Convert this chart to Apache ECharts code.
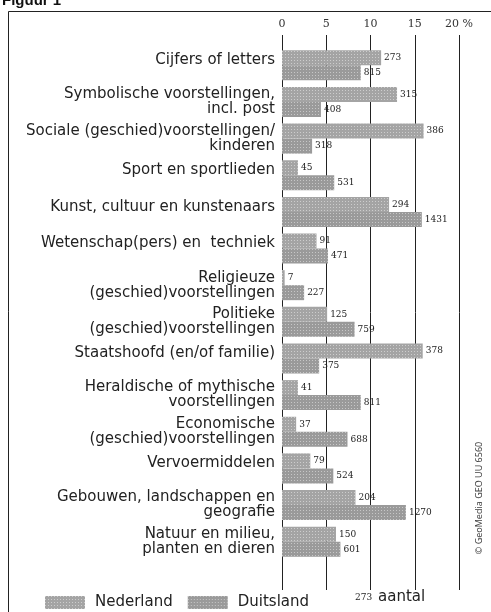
<!DOCTYPE html>
<html>
<head>
<meta charset="utf-8">
<title>Figuur 1</title>
<script src="https://cdn.jsdelivr.net/npm/echarts@6/dist/echarts.min.js"></script>
<style>
  html, body { margin: 0; padding: 0; background: #fff; }
  #chart { width: 491px; height: 612px; }
</style>
</head>
<body>
<div id="chart"></div>
<script>
// onderwerpen (van boven naar beneden)
var categories = [
  'Cijfers of letters',
  'Symbolische voorstellingen,\nincl. post',
  'Sociale (geschied)voorstellingen/\nkinderen',
  'Sport en sportlieden',
  'Kunst, cultuur en kunstenaars',
  'Wetenschap(pers) en  techniek',
  'Religieuze\n(geschied)voorstellingen',
  'Politieke\n(geschied)voorstellingen',
  'Staatshoofd (en/of familie)',
  'Heraldische of mythische\nvoorstellingen',
  'Economische\n(geschied)voorstellingen',
  'Vervoermiddelen',
  'Gebouwen, landschappen en\ngeografie',
  'Natuur en milieu,\nplanten en dieren'
];
// percentages
var nederland = [11.2, 13.0, 16.0, 1.8, 12.1, 3.9, 0.3, 5.1, 15.9, 1.8, 1.6, 3.2, 8.3, 6.1];
var duitsland = [8.9, 4.4, 3.4, 5.9, 15.8, 5.2, 2.5, 8.2, 4.2, 8.9, 7.4, 5.8, 14.0, 6.6];
// aantallen
var aantalNL = [273, 315, 386, 45, 294, 91, 7, 125, 378, 41, 37, 79, 204, 150];
var aantalDE = [815, 408, 318, 531, 1431, 471, 227, 759, 375, 811, 688, 524, 1270, 601];
var ticks = [0, 5, 10, 15, 20];

var labelFont = '"DejaVu Sans", sans-serif';
var numFont = '"DejaVu Serif", serif';

var chart = echarts.init(document.getElementById('chart'));

function valueLabel(counts) {
  return {
    show: true,
    position: 'right',
    distance: 3,
    fontFamily: numFont,
    fontSize: 9,
    color: '#222',
    formatter: function (p) { return counts[p.dataIndex]; }
  };
}

var texture = {
  symbol: 'rect',
  symbolSize: 1,
  dashArrayX: [1, 2],
  dashArrayY: [1, 2],
  color: 'rgba(255,255,255,0.45)'
};

chart.setOption({
  animation: false,
  backgroundColor: '#fff',
  grid: [
    { left: 282, right: 32, top: 35, bottom: 22 },
    { left: 282, right: 32, top: 47, bottom: 52 }
  ],
  xAxis: [
    {
      gridIndex: 0, type: 'value', position: 'top',
      min: ticks[0], max: ticks[ticks.length - 1], interval: 5,
      axisLine: { show: false },
      axisTick: { show: false },
      axisLabel: {
        margin: 5, fontFamily: numFont, fontSize: 11, color: '#333',
        formatter: function (v) { return v === 20 ? '20 %' : v; }
      },
      splitLine: { show: true, lineStyle: { color: '#222', width: 1 } }
    },
    {
      gridIndex: 1, type: 'value', min: 0, max: 20, show: false
    }
  ],
  yAxis: [
    { gridIndex: 0, type: 'value', show: false },
    {
      gridIndex: 1, type: 'category', inverse: true, data: categories,
      axisLine: { show: false },
      axisTick: { show: false },
      axisLabel: {
        margin: 7, fontFamily: labelFont, fontSize: 15, color: '#222',
        lineHeight: 15, align: 'right',
        formatter: function (v) {
          return v.indexOf('\n') >= 0 ? v : '{s|' + v + '}';
        },
        rich: { s: { fontFamily: labelFont, fontSize: 15, color: '#222', padding: [0, 0, 10, 0] } }
      }
    }
  ],
  legend: {
    left: 40, top: 590, itemWidth: 40, itemHeight: 13, itemGap: 15, icon: 'rect',
    textStyle: { fontFamily: labelFont, fontSize: 15, color: '#222', padding: [0, 0, 0, 5] },
    data: ['Nederland', 'Duitsland']
  },
  series: [
    {
      name: 'Nederland', type: 'bar', xAxisIndex: 1, yAxisIndex: 1,
      data: nederland, barWidth: 15, barGap: '0%',
      itemStyle: { color: '#a4a4a4', decal: texture },
      label: valueLabel(aantalNL)
    },
    {
      name: 'Duitsland', type: 'bar', xAxisIndex: 1, yAxisIndex: 1,
      data: duitsland, barWidth: 15, barGap: '0%',
      itemStyle: { color: '#9a9a9a', decal: texture },
      label: valueLabel(aantalDE)
    }
  ],
  graphic: [
    { type: 'line', shape: { x1: 8.5, y1: 11.5, x2: 491, y2: 11.5 }, style: { stroke: '#222', lineWidth: 1 } },
    { type: 'line', shape: { x1: 8.5, y1: 11.5, x2: 8.5, y2: 612 }, style: { stroke: '#222', lineWidth: 1 } },
    { type: 'text', left: 2, top: -7, style: { text: 'Figuur 1', font: 'bold 15px "Liberation Sans", sans-serif', fill: '#111' } },
    { type: 'text', x: 355, y: 598, style: { text: '273', font: '9px "DejaVu Serif", serif', fill: '#222', verticalAlign: 'middle' } },
    { type: 'text', x: 378, y: 597, style: { text: 'aantal', font: '15px "DejaVu Sans", sans-serif', fill: '#222', verticalAlign: 'middle' } },
    {
      type: 'text', x: 479, y: 498, rotation: Math.PI / 2,
      style: { text: '© GeoMedia GEO UU 6560', font: '9px "Noto Sans", sans-serif', fill: '#444', align: 'center', verticalAlign: 'middle' }
    }
  ]
});
</script>
</body>
</html>
